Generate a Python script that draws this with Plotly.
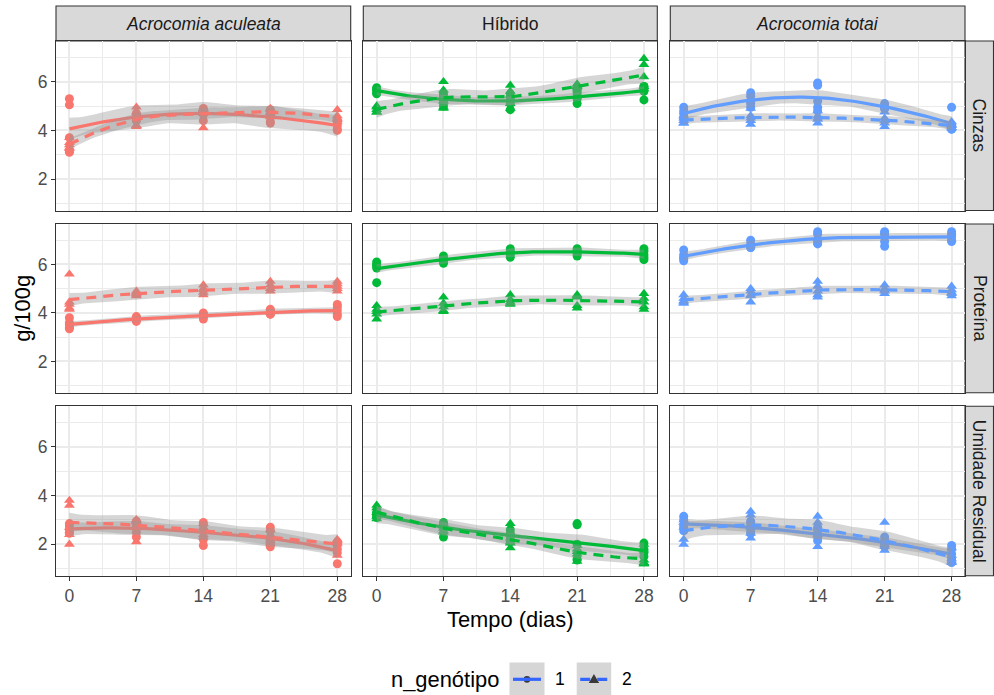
import numpy as np
import plotly.graph_objects as go

# ---------------------------------------------------------------- data
dias = [0, 7, 14, 21, 28]
especies = ["<i>Acrocomia aculeata</i>", "Híbrido", "<i>Acrocomia totai</i>"]
variaveis = ["Cinzas", "Proteína", "Umidade Residual"]
genotipos = ["1", "2"]
cores = ["#F8766D", "#00BA38", "#619CFF"]

# g/100g per sampling day (rows = 0, 7, 14, 21, 28 days)
cinzas_aculeata_1 = [[5.3, 5.05, 3.7, 3.15, 3.1], [4.7, 4.6, 4.55, 4.5, 4.4], [4.9, 4.8, 4.75, 4.65, 4.4],
                     [4.85, 4.7, 4.55, 4.35, 4.3], [4.4, 4.35, 4.2, 4.05, 4.0]]
cinzas_aculeata_2 = [[3.7, 3.5, 3.4, 3.3, 3.25], [4.95, 4.75, 4.2, 4.2, 4.15], [4.9, 4.9, 4.85, 4.7, 4.1],
                     [4.9, 4.85, 4.75, 4.7, 4.55], [4.85, 4.6, 4.5, 4.45, 4.35]]
cinzas_hibrido_1 = [[5.75, 5.7, 5.65, 5.55, 5.5], [5.5, 5.4, 5.3, 5.15, 5.0], [5.5, 5.35, 5.25, 5.1, 4.85],
                    [5.6, 5.5, 5.35, 5.3, 5.1], [5.8, 5.8, 5.7, 5.6, 5.25]]
cinzas_hibrido_2 = [[5.0, 4.95, 4.85, 4.75, 4.75], [6.0, 5.65, 5.2, 4.95, 4.9], [5.85, 5.6, 5.45, 5.1, 4.9],
                    [5.9, 5.85, 5.8, 5.8, 5.75], [6.95, 6.7, 6.2, 5.8, 5.7]]
cinzas_totai_1 = [[4.95, 4.8, 4.7, 4.55, 4.45], [5.55, 5.4, 5.2, 5.1, 4.95], [5.95, 5.85, 5.2, 4.95, 4.8],
                  [5.1, 5.0, 4.95, 4.9, 4.9], [4.95, 4.2, 4.15, 4.05, 4.05]]
cinzas_totai_2 = [[4.6, 4.5, 4.4, 4.3, 4.3], [4.9, 4.6, 4.5, 4.4, 4.25], [4.8, 4.6, 4.5, 4.45, 4.3],
                  [4.75, 4.5, 4.4, 4.3, 4.15], [4.35, 4.25, 4.2, 4.1, 4.1]]

proteina_aculeata_1 = [[3.8, 3.6, 3.5, 3.4, 3.35], [3.85, 3.8, 3.75, 3.7, 3.65], [4.0, 3.95, 3.9, 3.85, 3.75],
                       [4.15, 4.1, 4.05, 3.95, 3.95], [4.35, 4.25, 4.1, 3.95, 3.85]]
proteina_aculeata_2 = [[5.6, 4.45, 4.35, 4.2, 4.15], [4.9, 4.85, 4.8, 4.75, 4.7], [5.15, 5.0, 4.95, 4.85, 4.75],
                       [5.3, 5.15, 5.0, 5.0, 4.9], [5.3, 5.2, 5.1, 5.0, 4.9]]
proteina_hibrido_1 = [[6.1, 6.0, 5.95, 5.85, 5.25], [6.35, 6.25, 6.2, 6.15, 6.05], [6.65, 6.55, 6.5, 6.4, 6.3],
                      [6.65, 6.6, 6.55, 6.45, 6.35], [6.65, 6.55, 6.4, 6.3, 6.2]]
proteina_hibrido_2 = [[4.3, 4.15, 4.05, 3.95, 3.75], [4.65, 4.4, 4.25, 4.1, 4.05], [4.75, 4.55, 4.45, 4.4, 4.35],
                      [4.75, 4.7, 4.65, 4.3, 4.2], [4.8, 4.6, 4.45, 4.25, 4.15]]
proteina_totai_1 = [[6.6, 6.4, 6.3, 6.25, 6.15], [7.0, 6.85, 6.75, 6.7, 6.7], [7.35, 7.25, 7.0, 6.9, 6.85],
                    [7.35, 7.3, 7.25, 6.95, 6.75], [7.35, 7.25, 7.15, 7.0, 6.95]]
proteina_totai_2 = [[4.75, 4.6, 4.5, 4.45, 4.4], [5.0, 4.9, 4.75, 4.7, 4.45], [5.3, 5.1, 4.9, 4.75, 4.65],
                    [5.15, 5.0, 4.95, 4.9, 4.8], [5.1, 4.95, 4.85, 4.8, 4.7]]

umidade_aculeata_1 = [[2.85, 2.75, 2.6, 2.5, 2.45], [2.95, 2.85, 2.7, 2.5, 2.3], [2.9, 2.8, 2.6, 2.2, 1.95],
                      [2.7, 2.55, 2.1, 2.0, 1.9], [2.1, 1.95, 1.8, 1.65, 1.2]]
umidade_aculeata_2 = [[3.8, 3.6, 2.7, 2.4, 2.0], [3.0, 3.0, 2.95, 2.9, 2.1], [2.85, 2.7, 2.55, 2.4, 2.3],
                      [2.6, 2.4, 2.25, 2.15, 2.05], [2.2, 2.15, 2.1, 2.05, 1.55]]
umidade_hibrido_1 = [[3.3, 3.3, 3.2, 3.15, 3.1], [2.9, 2.85, 2.75, 2.7, 2.3], [2.6, 2.45, 2.35, 2.3, 2.1],
                     [2.85, 2.8, 2.0, 1.4, 1.35], [2.05, 1.8, 1.7, 1.65, 1.5]]
umidade_hibrido_2 = [[3.6, 3.5, 3.3, 3.15, 3.05], [2.85, 2.75, 2.65, 2.55, 2.5], [2.85, 2.25, 2.1, 2.05, 1.85],
                     [1.95, 1.8, 1.7, 1.6, 1.3], [2.0, 1.35, 1.25, 1.2, 1.2]]
umidade_totai_1 = [[3.15, 3.0, 2.8, 2.7, 2.55], [2.95, 2.85, 2.7, 2.55, 2.45], [2.7, 2.55, 2.4, 2.3, 2.15],
                   [2.3, 2.15, 2.05, 2.0, 1.9], [1.95, 1.8, 1.6, 1.4, 1.25]]
umidade_totai_2 = [[3.0, 2.9, 2.7, 2.2, 2.0], [3.35, 3.2, 2.7, 2.45, 2.25], [3.15, 2.9, 2.7, 2.4, 1.9],
                   [2.9, 2.2, 2.0, 1.9, 1.75], [1.85, 1.55, 1.4, 1.3, 1.25]]

# panel grid: rows = variable, columns = species, inner pair = genotype 1 / 2
paineis = [
    [(cinzas_aculeata_1, cinzas_aculeata_2), (cinzas_hibrido_1, cinzas_hibrido_2), (cinzas_totai_1, cinzas_totai_2)],
    [(proteina_aculeata_1, proteina_aculeata_2), (proteina_hibrido_1, proteina_hibrido_2),
     (proteina_totai_1, proteina_totai_2)],
    [(umidade_aculeata_1, umidade_aculeata_2), (umidade_hibrido_1, umidade_hibrido_2),
     (umidade_totai_1, umidade_totai_2)],
]


# ---------------------------------------------------------------- loess smoother
def t_quantile(p, df):
    # Cornish-Fisher expansion of Student's t around the normal quantile
    z = 1.959963984540054 if abs(p - 0.975) < 1e-9 else np.sqrt(2) * _erfinv(2 * p - 1)
    return (z + (z ** 3 + z) / (4 * df) + (5 * z ** 5 + 16 * z ** 3 + 3 * z) / (96 * df ** 2)
            + (3 * z ** 7 + 19 * z ** 5 + 17 * z ** 3 - 15 * z) / (384 * df ** 3))


def _erfinv(y):
    a = 0.147
    ln = np.log(1 - y * y)
    t = 2 / (np.pi * a) + ln / 2
    return np.sign(y) * np.sqrt(np.sqrt(t * t - ln / a) - t)


def loess_band(x, y, grid, span=0.75, level=0.95):
    """Local quadratic fit (tricube weights) evaluated at the distinct x values,
    joined with cubic Hermite interpolation; returns fit and confidence band."""
    x = np.asarray(x, float)
    y = np.asarray(y, float)
    n = len(x)
    q = int(np.floor(n * span))
    verts = np.unique(x)
    L0, L1 = [], []
    for v in verts:
        d = np.abs(x - v)
        h = np.sort(d)[q - 1]
        w = np.where(d < h, (1 - (d / h) ** 3) ** 3, 0.0)
        X = np.column_stack([np.ones(n), x - v, (x - v) ** 2])
        XtW = X.T * w
        B = np.linalg.pinv(XtW @ X) @ XtW
        L0.append(B[0])
        L1.append(B[1])
    L0 = np.array(L0)
    L1 = np.array(L1)

    def operator(t):
        k = int(np.clip(np.searchsorted(verts, t, side="right") - 1, 0, len(verts) - 2))
        xa, xb = verts[k], verts[k + 1]
        hh = xb - xa
        s = (t - xa) / hh
        h00 = 2 * s ** 3 - 3 * s ** 2 + 1
        h10 = s ** 3 - 2 * s ** 2 + s
        h01 = -2 * s ** 3 + 3 * s ** 2
        h11 = s ** 3 - s ** 2
        return h00 * L0[k] + h10 * hh * L1[k] + h01 * L0[k + 1] + h11 * hh * L1[k + 1]

    Lg = np.array([operator(t) for t in grid])
    Ld = np.array([operator(t) for t in x])
    fit = Lg @ y
    R = np.eye(n) - Ld
    res = R @ y
    M = R.T @ R
    d1 = np.trace(M)
    d2 = np.trace(M @ M)
    sigma = np.sqrt(np.sum(res ** 2) / d1)
    se = sigma * np.sqrt(np.sum(Lg ** 2, axis=1))
    tq = t_quantile(0.5 + level / 2, d1 ** 2 / d2)
    return fit, fit - tq * se, fit + tq * se


# ---------------------------------------------------------------- geometry (px)
W, H = 994, 695
col_px = [(56, 350.7), (363.3, 657.3), (670.3, 965)]
row_px = [(41, 210.5), (224, 392.7), (406.3, 575.7)]
strip_top = 6
strip_right = 993.5
x_range = [-1.4, 29.4]
y_range = [0.71, 7.67]

FONT = "Liberation Sans, Arial, sans-serif"
GRID = "#EBEBEB"
DARK = "#333333"


def px(xp):
    return xp / W


def py(yp):
    return 1 - yp / H


fig = go.Figure()
grid = np.linspace(0, 28, 80)
simbolos = ["circle", "triangle-up"]
tamanhos = [9, 9.5]
tracos = ["solid", "10px,7px"]

layout_axes = {}
for r in range(3):
    for c in range(3):
        k = r * 3 + c
        sfx = "" if k == 0 else str(k + 1)
        xname, yname = "x" + sfx, "y" + sfx
        grupos = paineis[r][c]

        # raw observations
        for g in range(2):
            xs, ys = [], []
            for i, dia in enumerate(dias):
                for val in grupos[g][i]:
                    xs.append(dia)
                    ys.append(val)
            fig.add_trace(go.Scatter(
                x=xs, y=ys, mode="markers", xaxis=xname, yaxis=yname, showlegend=False,
                marker=dict(symbol=simbolos[g], size=tamanhos[g], color=cores[c], line=dict(width=0)),
                hoverinfo="skip"))

        # smoothed trend with confidence ribbon
        for g in range(2):
            xs, ys = [], []
            for i, dia in enumerate(dias):
                for val in grupos[g][i]:
                    xs.append(dia)
                    ys.append(val)
            fit, lo, hi = loess_band(xs, ys, grid)
            fig.add_trace(go.Scatter(
                x=np.concatenate([grid, grid[::-1]]), y=np.concatenate([hi, lo[::-1]]),
                xaxis=xname, yaxis=yname, mode="lines", fill="toself",
                fillcolor="rgba(153,153,153,0.4)", line=dict(width=0), showlegend=False,
                hoverinfo="skip"))
            fig.add_trace(go.Scatter(
                x=grid, y=fit, xaxis=xname, yaxis=yname, mode="lines", showlegend=False,
                line=dict(color=cores[c], width=3.2, dash=tracos[g]), hoverinfo="skip"))

        bottom = r == 2
        left = c == 0
        layout_axes["xaxis" + sfx] = dict(
            domain=[px(col_px[c][0]), px(col_px[c][1])], anchor=yname, range=x_range,
            tickmode="array", tickvals=dias, ticktext=[str(d) for d in dias],
            showticklabels=bottom, ticks="outside" if bottom else "", ticklen=4, tickwidth=1.1,
            tickcolor=DARK, tickfont=dict(family=FONT, size=17.5, color="#4D4D4D"),
            showgrid=True, gridcolor=GRID, gridwidth=1.8, zeroline=False,
            showline=True, linecolor=DARK, linewidth=1.1, mirror=True,
            minor=dict(tickvals=[3.5, 10.5, 17.5, 24.5], showgrid=True, gridcolor=GRID,
                       gridwidth=0.9, ticks=""),
        )
        layout_axes["yaxis" + sfx] = dict(
            domain=[py(row_px[r][1]), py(row_px[r][0])], anchor=xname, range=y_range,
            tickmode="array", tickvals=[2, 4, 6], ticktext=["2", "4", "6"],
            showticklabels=left, ticks="outside" if left else "", ticklen=4, tickwidth=1.1,
            tickcolor=DARK, tickfont=dict(family=FONT, size=17.5, color="#4D4D4D"),
            showgrid=True, gridcolor=GRID, gridwidth=1.8, zeroline=False,
            showline=True, linecolor=DARK, linewidth=1.1, mirror=True,
            minor=dict(tickvals=[1, 3, 5, 7], showgrid=True, gridcolor=GRID,
                       gridwidth=0.9, ticks=""),
        )

shapes = []
annotations = []

# facet strips
for c in range(3):
    shapes.append(dict(type="rect", xref="paper", yref="paper",
                       x0=px(col_px[c][0]), x1=px(col_px[c][1]), y0=py(row_px[0][0]), y1=py(strip_top),
                       fillcolor="#D9D9D9", line=dict(color=DARK, width=1.1), layer="below"))
    annotations.append(dict(text=especies[c], xref="paper", yref="paper",
                            x=px((col_px[c][0] + col_px[c][1]) / 2), y=py((strip_top + row_px[0][0]) / 2),
                            showarrow=False, xanchor="center", yanchor="middle",
                            font=dict(family=FONT, size=17.5, color="#1A1A1A")))
for r in range(3):
    shapes.append(dict(type="rect", xref="paper", yref="paper",
                       x0=px(col_px[2][1]), x1=px(strip_right), y0=py(row_px[r][1]), y1=py(row_px[r][0]),
                       fillcolor="#D9D9D9", line=dict(color=DARK, width=1.1), layer="below"))
    annotations.append(dict(text=variaveis[r], xref="paper", yref="paper",
                            x=px((col_px[2][1] + strip_right) / 2), y=py((row_px[r][0] + row_px[r][1]) / 2),
                            textangle=90, showarrow=False, xanchor="center", yanchor="middle",
                            font=dict(family=FONT, size=17.5, color="#1A1A1A")))

# axis titles
annotations.append(dict(text="Tempo (dias)", xref="paper", yref="paper",
                        x=px((col_px[0][0] + col_px[2][1]) / 2), y=py(619), showarrow=False,
                        xanchor="center", yanchor="middle", font=dict(family=FONT, size=21.9, color="black")))
annotations.append(dict(text="g/100g", xref="paper", yref="paper", x=px(22.5),
                        y=py((row_px[0][0] + row_px[2][1]) / 2), textangle=-90, showarrow=False,
                        xanchor="center", yanchor="middle", font=dict(family=FONT, size=21.9, color="black")))

# legend for genotype (line type + point shape)
leg_y = 679.3
keys = [(509.5, 544.5), (576.7, 611.2)]
for g, (k0, k1) in enumerate(keys):
    shapes.append(dict(type="rect", xref="paper", yref="paper", x0=px(k0), x1=px(k1),
                       y0=py(697), y1=py(662.5), fillcolor="#D6D6D6", line=dict(width=0)))
    cx = (k0 + k1) / 2
    if g == 0:
        shapes.append(dict(type="circle", xref="paper", yref="paper", x0=px(cx - 3.4), x1=px(cx + 3.4),
                           y0=py(leg_y + 3.4), y1=py(leg_y - 3.4), fillcolor="#3A3A3A", line=dict(width=0)))
    else:
        path = "M {:.5f},{:.5f} L {:.5f},{:.5f} L {:.5f},{:.5f} Z".format(
            px(cx - 5.2), py(leg_y + 3.6), px(cx + 5.2), py(leg_y + 3.6), px(cx), py(leg_y - 5.4))
        shapes.append(dict(type="path", xref="paper", yref="paper", path=path,
                           fillcolor="#3A3A3A", line=dict(width=0)))
    shapes.append(dict(type="line", xref="paper", yref="paper", x0=px(k0 + 3.5), x1=px(k1 - 3.5),
                       y0=py(leg_y), y1=py(leg_y),
                       line=dict(color="#3366FF", width=3.2, dash="solid" if g == 0 else "10px,7px")))
    annotations.append(dict(text=genotipos[g], xref="paper", yref="paper", x=px(k1 + 8.5), y=py(leg_y),
                            showarrow=False, xanchor="left", yanchor="middle",
                            font=dict(family=FONT, size=17.5, color="black")))
annotations.append(dict(text="n_genótipo", xref="paper", yref="paper", x=px(389), y=py(leg_y),
                        showarrow=False, xanchor="left", yanchor="middle",
                        font=dict(family=FONT, size=21.9, color="black")))

fig.update_layout(
    width=W, height=H, margin=dict(l=0, r=0, t=0, b=0),
    paper_bgcolor="white", plot_bgcolor="white", showlegend=False,
    shapes=shapes, annotations=annotations, font=dict(family=FONT),
    **layout_axes,
)

fig.write_html("out.html")
